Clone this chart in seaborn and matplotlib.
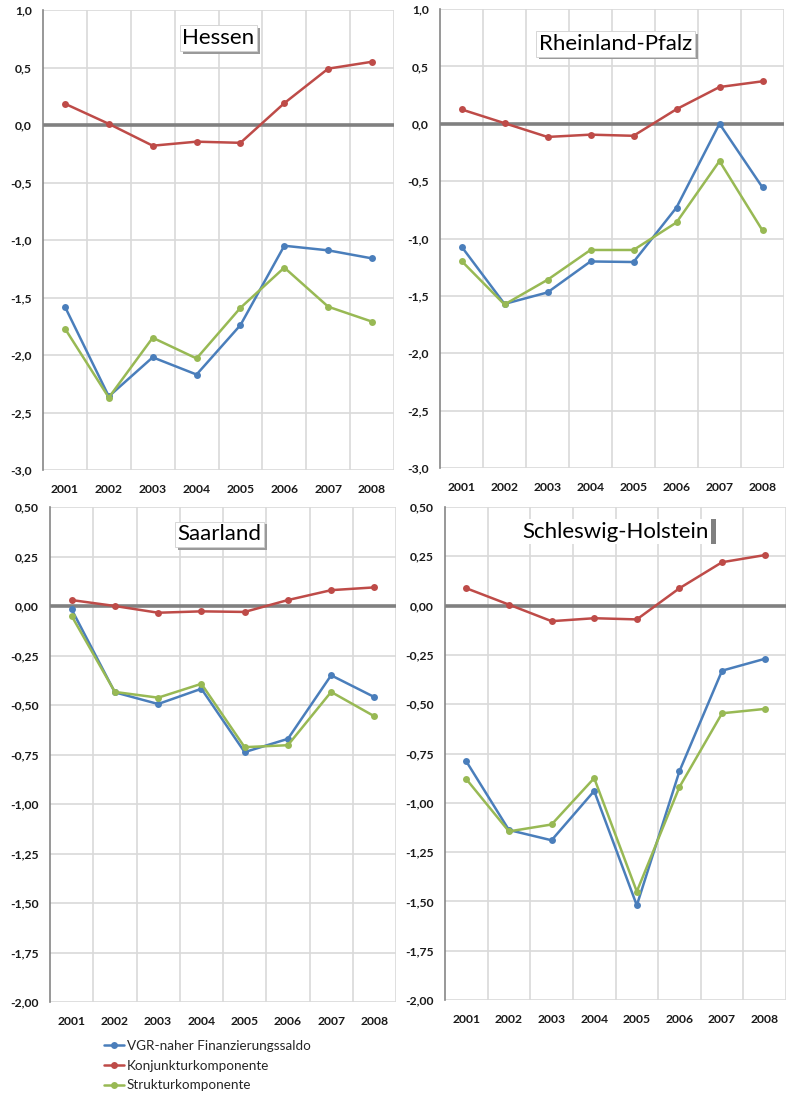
import numpy as np
import pandas as pd
import matplotlib
matplotlib.use('Agg')
import matplotlib.pyplot as plt
import matplotlib.patheffects as pe
import seaborn as sns

years = ['2001', '2002', '2003', '2004', '2005', '2006', '2007', '2008']
series_names = ['VGR-naher Finanzierungssaldo', 'Konjunkturkomponente', 'Strukturkomponente']

# Hessen
he_vgr = [-1.58, -2.36, -2.02, -2.17, -1.74, -1.05, -1.09, -1.16]
he_konj = [0.185, 0.01, -0.18, -0.145, -0.155, 0.19, 0.49, 0.55]
he_strukt = [-1.77, -2.37, -1.85, -2.03, -1.59, -1.24, -1.58, -1.71]

# Rheinland-Pfalz
rp_vgr = [-1.07, -1.57, -1.47, -1.20, -1.205, -0.73, 0.0, -0.555]
rp_konj = [0.125, 0.005, -0.115, -0.095, -0.105, 0.127, 0.32, 0.37]
rp_strukt = [-1.195, -1.575, -1.36, -1.10, -1.10, -0.86, -0.325, -0.93]

# Saarland
sl_vgr = [-0.017, -0.436, -0.495, -0.418, -0.738, -0.671, -0.35, -0.46]
sl_konj = [0.03, 0.0, -0.034, -0.027, -0.03, 0.03, 0.08, 0.094]
sl_strukt = [-0.05, -0.434, -0.463, -0.393, -0.713, -0.703, -0.434, -0.557]

# Schleswig-Holstein
sh_vgr = [-0.79, -1.138, -1.19, -0.94, -1.52, -0.84, -0.33, -0.27]
sh_konj = [0.088, 0.005, -0.079, -0.064, -0.07, 0.088, 0.22, 0.256]
sh_strukt = [-0.88, -1.145, -1.11, -0.875, -1.45, -0.92, -0.546, -0.524]

panels = [
    ('Hessen', he_vgr, he_konj, he_strukt, (-3.0, 1.0), 0.5, 1, 'box'),
    ('Rheinland-Pfalz', rp_vgr, rp_konj, rp_strukt, (-3.0, 1.0), 0.5, 1, 'box'),
    ('Saarland', sl_vgr, sl_konj, sl_strukt, (-2.0, 0.5), 0.25, 2, 'box'),
    ('Schleswig-Holstein', sh_vgr, sh_konj, sh_strukt, (-2.0, 0.5), 0.25, 2, 'bar'),
]

# axes rectangles in pixels: left, right, top, bottom
rects_px = [(43, 394, 10, 470), (440, 784, 9, 468), (50, 396, 507, 1002), (445, 786, 507, 1000)]
title_pos = [(0.50, 0.939), (0.51, 0.924), (0.49, 0.945), (0.50, 0.95)]

colors = ['#4A7EBB', '#BE4B48', '#98B954']
W, H = 787, 1093

sns.set_style('white')
plt.rcParams['font.family'] = ['Lato', 'DejaVu Sans']

fig = plt.figure(figsize=(W / 100, H / 100), dpi=100)

for i, (name, vgr, konj, strukt, ylim, step, dec, style) in enumerate(panels):
    l, r, t, b = rects_px[i]
    ax = fig.add_axes([l / W, 1 - b / H, (r - l) / W, (b - t) / H])

    df = pd.DataFrame({
        'x': list(range(len(years))) * 3,
        'wert': vgr + konj + strukt,
        'reihe': [series_names[0]] * 8 + [series_names[1]] * 8 + [series_names[2]] * 8,
    })
    sns.lineplot(data=df, x='x', y='wert', hue='reihe', hue_order=series_names,
                 palette=colors, marker='o', markersize=5, markeredgewidth=0,
                 linewidth=1.8, ax=ax, legend=(i == 2), zorder=3)

    ax.axhline(0, color='#808080', lw=2.6, zorder=2)

    ax.set_xlim(-0.5, 7.5)
    ax.set_ylim(*ylim)
    ax.set_xticks(range(len(years)))
    ax.set_xticklabels(years)
    ax.set_xticks(np.arange(0.5, 8, 1), minor=True)
    yt = np.arange(ylim[0], ylim[1] + step / 2, step)
    ax.set_yticks(yt)
    ax.set_yticklabels([f'{v:.{dec}f}'.replace('.', ',') for v in yt])
    ax.grid(True, which='major', axis='y', color='#D9D9D9', lw=1.2)
    ax.grid(True, which='minor', axis='x', color='#D9D9D9', lw=1.2)
    ax.set_axisbelow(True)
    ax.tick_params(axis='x', which='both', length=0, pad=10, labelsize=8.7)
    ax.tick_params(axis='y', length=4, width=1, color='#868686', pad=4, labelsize=8.7)
    for lab in ax.get_xticklabels() + ax.get_yticklabels():
        lab.set_fontweight('bold')
        lab.set_color('#1a1a1a')
    for s in ['top', 'right', 'bottom']:
        ax.spines[s].set_visible(False)
    ax.spines['left'].set_color('#868686')
    ax.spines['left'].set_linewidth(1.2)
    ax.set_xlabel('')
    ax.set_ylabel('')

    tx, ty = title_pos[i]
    if style == 'box':
        txt = ax.text(tx, ty, name, transform=ax.transAxes, ha='center', va='center',
                      fontsize=16, color='black', zorder=5,
                      bbox=dict(boxstyle='square,pad=0.12', fc='white', ec='#d0d0d0', lw=0.6))
        txt.get_bbox_patch().set_path_effects([
            pe.withSimplePatchShadow(offset=(2, -2), shadow_rgbFace='#9a9a9a', alpha=1)])
    else:
        txt = ax.text(tx, ty, name, transform=ax.transAxes, ha='center', va='center',
                      fontsize=16, color='black', zorder=5,
                      bbox=dict(boxstyle='square,pad=0.12', fc='white', ec='none'))
        txt.get_bbox_patch().set_path_effects([
            pe.withSimplePatchShadow(offset=(3.5, 0), shadow_rgbFace='#808080', alpha=1)])

    if i == 2:
        handles, labels = ax.get_legend_handles_labels()
        ax.get_legend().remove()
        leg = fig.legend(handles, labels, loc='upper left',
                         bbox_to_anchor=(97 / W, 1 - 1033 / H), frameon=False,
                         fontsize=9.7, handlelength=1.5, handletextpad=0.2,
                         labelspacing=0.58, borderpad=0)

fig.savefig('out.png', dpi=100)
